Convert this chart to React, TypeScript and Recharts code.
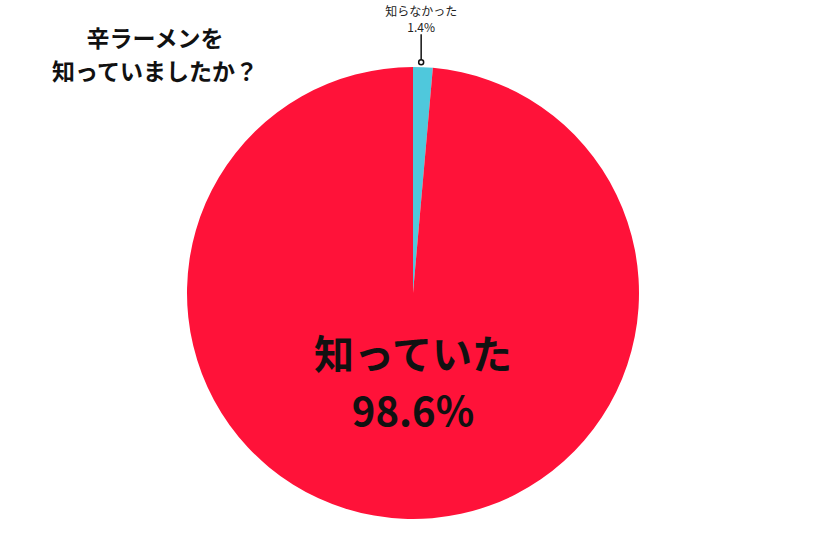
import React from "react";
import { PieChart, Pie, Cell } from "recharts";

const answers = ["知らなかった", "知っていた"];
const shares = [1.4, 98.6];
const colors = ["#4FC8DC", "#FF1239"];
const titleLines = ["辛ラーメンを", "知っていましたか？"];

const data = answers.map((name, i) => ({ name, value: shares[i] }));

const RAD = Math.PI / 180;
const FONT = "'Noto Sans CJK JP', 'Noto Sans', sans-serif";

const renderLabel = (props: any) => {
  const { cx, cy, midAngle, outerRadius, index, name, value } = props;
  if (index === 0) {
    // small slice: dot just outside the rim, line straight up, text above
    const x = cx + (outerRadius + 5) * Math.cos(-midAngle * RAD) - 2;
    const y = cy + (outerRadius + 5) * Math.sin(-midAngle * RAD);
    return (
      <g>
        <circle cx={x} cy={y} r={2.5} fill="#fff" stroke="#111" strokeWidth={1.5} />
        <line x1={x} y1={y - 2.5} x2={x} y2={y - 28} stroke="#111" strokeWidth={1.5} />
        <text x={x} y={y - 46} textAnchor="middle" fontSize={12} fill="#222" fontFamily={FONT}>
          {name}
        </text>
        <text x={x} y={y - 30} textAnchor="middle" fontSize={12} fill="#222" fontFamily={FONT}>
          {value}%
        </text>
      </g>
    );
  }
  return (
    <g>
      <text x={cx} y={cy + 76} textAnchor="middle" fontSize={40} fontWeight={700} fill="#111" fontFamily={FONT}>
        {name}
      </text>
      <text x={cx} y={cy + 133} textAnchor="middle" fontSize={40} fontWeight={700} fill="#111" fontFamily={FONT}>
        {value}%
      </text>
    </g>
  );
};

export default function App() {
  return (
    <div style={{ position: "absolute", left: 0, top: 0, width: 826, height: 550, background: "#fff" }}>
      <div
        style={{
          position: "absolute",
          left: 40,
          top: 21,
          width: 230,
          textAlign: "center",
          fontFamily: FONT,
          fontWeight: 700,
          fontSize: 23,
          lineHeight: "33px",
          color: "#111",
          zIndex: 1,
        }}
      >
        {titleLines.map((t) => (
          <div key={t}>{t}</div>
        ))}
      </div>
      <PieChart width={826} height={550} margin={{ top: 0, right: 0, bottom: 0, left: 0 }}>
        <Pie
          data={data}
          dataKey="value"
          nameKey="name"
          cx={413}
          cy={293}
          outerRadius={226}
          startAngle={90}
          endAngle={-270}
          stroke="none"
          label={renderLabel}
          labelLine={false}
          isAnimationActive={false}
        >
          {data.map((d, i) => (
            <Cell key={d.name} fill={colors[i]} />
          ))}
        </Pie>
      </PieChart>
    </div>
  );
}
